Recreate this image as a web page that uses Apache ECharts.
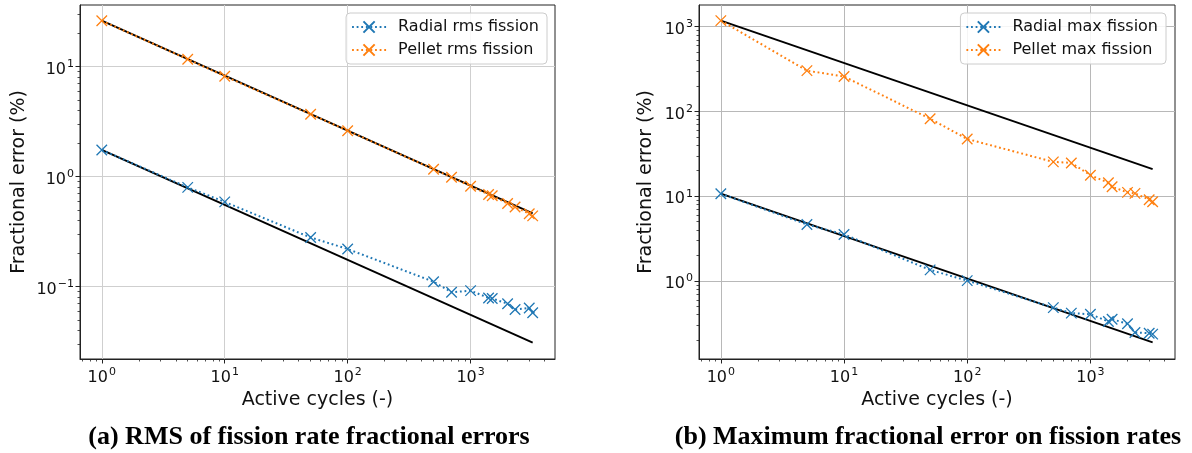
<!DOCTYPE html>
<html><head><meta charset="utf-8">
<script src="https://cdn.jsdelivr.net/npm/echarts@6/dist/echarts.min.js"></script>
<style>html,body{margin:0;padding:0;background:#fff}#c{width:1192px;height:453px}</style>
</head><body><div id="c"></div>
<script>
// ---- data ----
const cycles = [1, 5, 10, 50, 100, 500, 700, 1000, 1400, 1500, 2000, 2300, 3000, 3200];
const radialRms = [1.75, 0.80, 0.59, 0.28, 0.22, 0.111, 0.089, 0.092, 0.079, 0.078, 0.070, 0.062, 0.064, 0.058];
const pelletRms = [26.2, 11.7, 8.2, 3.7, 2.62, 1.17, 0.99, 0.82, 0.69, 0.67, 0.57, 0.53, 0.46, 0.44];
const radialMax = [10.7, 4.64, 3.54, 1.35, 1.01, 0.485, 0.417, 0.405, 0.332, 0.354, 0.312, 0.246, 0.242, 0.236];
const pelletMax = [1180, 303, 258, 82, 47.3, 25.4, 24.7, 17.7, 14.4, 12.9, 11.1, 10.8, 9.1, 8.6];
const refCycles = [1, 3200];
const refRmsPellet = [26.2, 0.463];
const refRmsRadial = [1.75, 0.031];
const refMaxPellet = [1180, 20.9];
const refMaxRadial = [10.7, 0.189];
const xMajor = [1, 10, 100, 1000];
const yMajorRms = [0.1, 1, 10];
const yMajorMax = [1, 10, 100, 1000];
const legendRms = ['Radial rms fission', 'Pellet rms fission'];
const legendMax = ['Radial max fission', 'Pellet max fission'];
const captions = ['(a) RMS of fission rate fractional errors', '(b) Maximum fractional error on fission rates'];
const xTitle = 'Active cycles (-)';
const yTitle = 'Fractional error (%)';

// ---- helpers ----
const FONT = 'DejaVu Sans';
const BLUE = '#1f77b4', ORANGE = '#ff7f0e';
const X_PATH = 'path://M0,0L10,10M10,0L0,10';
function pairs(xs, ys) { return xs.map((x, i) => [x, ys[i]]); }
function minorValues(lo, hi) {
  const out = [];
  for (let e = -3; e <= 4; e++) for (let m = 2; m <= 9; m++) {
    const v = m * Math.pow(10, e);
    if (v > lo && v < hi) out.push(v);
  }
  return out;
}
function supLabel(v) {
  const e = Math.round(Math.log10(v));
  return '{b|10}{s|' + (e < 0 ? '\u2212' + (-e) : e) + '}';
}
const rich = {
  b: { fontSize: 16, fontFamily: FONT, color: '#111', lineHeight: 22, verticalAlign: 'bottom' },
  s: { fontSize: 11, fontFamily: FONT, color: '#111', lineHeight: 22, verticalAlign: 'bottom', padding: [0, 0, 8, 1] }
};
const X_MIN = 0.665, X_MAX = 4860;
const Y_RMS = [0.022, 36.4], Y_MAX = [0.120, 1803];
const TITLE_STYLE = { fontFamily: FONT, fontSize: 19, color: '#111' };

function majorX(grid, gridColor) {
  return {
    type: 'log', logBase: 10, gridIndex: grid, min: X_MIN, max: X_MAX, position: 'bottom',
    name: xTitle, nameLocation: 'middle', nameGap: 28, nameTextStyle: TITLE_STYLE,
    axisLine: { show: true, lineStyle: { color: '#222', width: 1 } },
    axisTick: { show: true, customValues: xMajor, length: 4.5, lineStyle: { color: '#222', width: 1 } },
    axisLabel: { customValues: xMajor, formatter: supLabel, rich: rich, margin: 5 },
    splitLine: { show: true, lineStyle: { color: gridColor, width: 1 } },
    minorTick: { show: false }
  };
}
function minorX(grid) {
  return {
    type: 'log', logBase: 10, gridIndex: grid, min: X_MIN, max: X_MAX, position: 'bottom',
    axisLine: { show: false },
    axisTick: { show: true, customValues: minorValues(X_MIN, X_MAX), length: 2.5, lineStyle: { color: '#222', width: 0.8 } },
    axisLabel: { show: false }, splitLine: { show: false }
  };
}
function majorY(grid, ext, majors, gridColor, gap) {
  return {
    type: 'log', logBase: 10, gridIndex: grid, min: ext[0], max: ext[1], position: 'left',
    name: yTitle, nameLocation: 'middle', nameGap: gap, nameTextStyle: TITLE_STYLE,
    axisLine: { show: true, lineStyle: { color: '#222', width: 1 } },
    axisTick: { show: true, customValues: majors, length: 4.5, lineStyle: { color: '#222', width: 1 } },
    axisLabel: { customValues: majors, formatter: supLabel, rich: rich, margin: 6 },
    splitLine: { show: true, lineStyle: { color: gridColor, width: 1 } }
  };
}
function minorY(grid, ext) {
  return {
    type: 'log', logBase: 10, gridIndex: grid, min: ext[0], max: ext[1], position: 'left',
    axisLine: { show: false },
    axisTick: { show: true, customValues: minorValues(ext[0], ext[1]), length: 2.5, lineStyle: { color: '#222', width: 0.8 } },
    axisLabel: { show: false }, splitLine: { show: false }
  };
}
function dataSeries(name, color, ys, xi, yi) {
  return {
    type: 'line', name: name, xAxisIndex: xi, yAxisIndex: yi, z: 3,
    data: pairs(cycles, ys), color: color,
    symbol: X_PATH, symbolSize: 10.5, showSymbol: true,
    itemStyle: { color: color, borderColor: color, borderWidth: 1.3 },
    lineStyle: { color: color, width: 2, type: [1.8, 2.8], cap: 'butt' },
    animation: false
  };
}
function refSeries(ys, xi, yi) {
  return {
    type: 'line', xAxisIndex: xi, yAxisIndex: yi, z: 2, data: pairs(refCycles, ys),
    symbol: 'none', lineStyle: { color: '#000', width: 1.9 }, silent: true, animation: false
  };
}
function legend(names, right) {
  return {
    data: names, orient: 'vertical', right: right, top: 13,
    itemWidth: 34, itemHeight: 14, itemGap: 5,
    padding: [5, 8, 5, 5], borderColor: '#cccccc', borderWidth: 1, borderRadius: 4,
    backgroundColor: 'rgba(255,255,255,0.85)',
    textStyle: { fontFamily: FONT, fontSize: 16, color: '#111', padding: [0, 0, 0, 7], lineHeight: 18 },
    selectedMode: false
  };
}

const chart = echarts.init(document.getElementById('c'), null, { renderer: 'canvas' });
chart.setOption({
  animation: false,
  backgroundColor: '#fff',
  grid: [
    { left: 80, top: 5, width: 475, height: 354, show: true, borderColor: '#222', borderWidth: 1, backgroundColor: 'transparent' },
    { left: 699, top: 5, width: 476, height: 354, show: true, borderColor: '#222', borderWidth: 1, backgroundColor: 'transparent' }
  ],
  xAxis: [majorX(0, '#cfcfcf'), minorX(0), majorX(1, '#b8b8b8'), minorX(1)],
  yAxis: [majorY(0, Y_RMS, yMajorRms, '#cfcfcf', 51), minorY(0, Y_RMS), majorY(1, Y_MAX, yMajorMax, '#b8b8b8', 43), minorY(1, Y_MAX)],
  legend: [legend(legendRms, 645), legend(legendMax, 26)],
  series: [
    refSeries(refRmsPellet, 0, 0), refSeries(refRmsRadial, 0, 0),
    dataSeries(legendRms[0], BLUE, radialRms, 0, 0),
    dataSeries(legendRms[1], ORANGE, pelletRms, 0, 0),
    refSeries(refMaxPellet, 2, 2), refSeries(refMaxRadial, 2, 2),
    dataSeries(legendMax[0], BLUE, radialMax, 2, 2),
    dataSeries(legendMax[1], ORANGE, pelletMax, 2, 2)
  ],
  graphic: [
    { type: 'text', x: 309, y: 437, style: { text: captions[0], font: 'bold 26px "Liberation Serif", serif', fill: '#000', textAlign: 'center', textVerticalAlign: 'middle' } },
    { type: 'text', x: 928, y: 437, style: { text: captions[1], font: 'bold 26px "Liberation Serif", serif', fill: '#000', textAlign: 'center', textVerticalAlign: 'middle' } }
  ]
});
</script></body></html>
